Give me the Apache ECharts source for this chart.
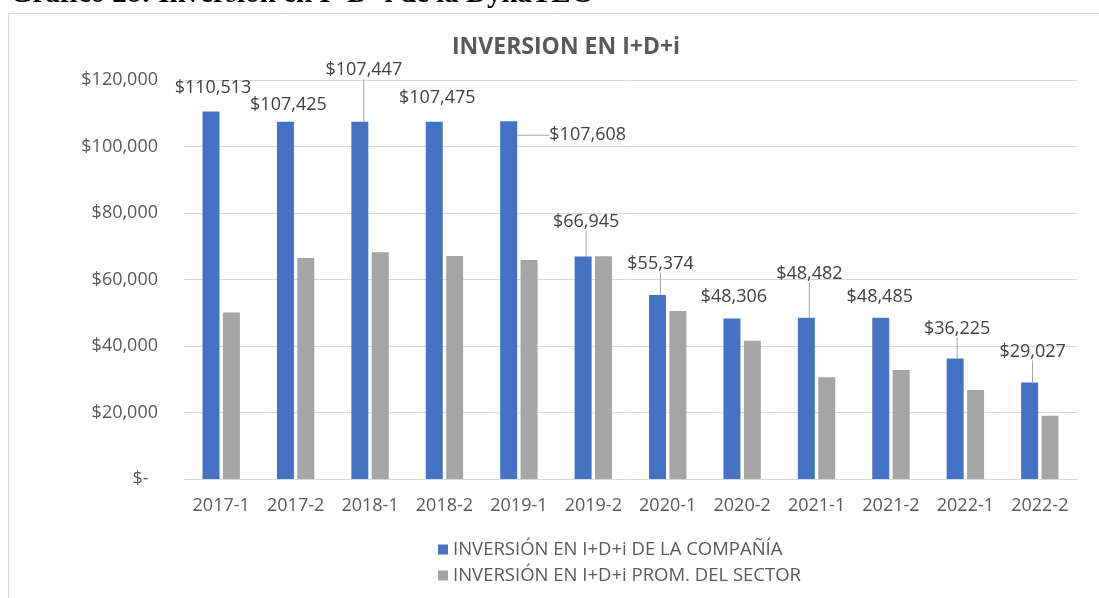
<!DOCTYPE html>
<html>
<head>
<meta charset="utf-8">
<script src="https://cdn.jsdelivr.net/npm/echarts@6/dist/echarts.min.js"></script>
<style>
    html, body { margin: 0; padding: 0; background: #fff; }
    #main { width: 1099px; height: 598px; }
</style>
</head>
<body>
<div id="main"></div>
<script>
var periodos = ['2017-1','2017-2','2018-1','2018-2','2019-1','2019-2','2020-1','2020-2','2021-1','2021-2','2022-1','2022-2'];
var compania = [110513,107425,107447,107475,107608,66945,55374,48306,48482,48485,36225,29027];
var sector = [50100,66500,68200,67100,65900,67000,50500,41600,30600,32800,26800,19000];
var yTicks = [0,20000,40000,60000,80000,100000,120000];

// desplazamiento de cada etiqueta (como quedaron en el Excel) y si lleva linea guia
var etqDx = [2,3,4,3,79,3,3,2,3,-1,2,3];
var etqDy = [-10,-3,-38,-10,28,-21,-17,-8,-30,-7,-16,-17];
var etqLinea = [false,false,true,false,true,true,true,false,true,false,true,true];

var myChart = echarts.init(document.getElementById('main'));

function fmtPesos(v){
    if(v == 0){
        return '$-  ';
    }
    return '$' + v.toLocaleString('en-US');
}

var dataCompania = compania.map(function(v, i){
    return { value: v, labelLine: { show: etqLinea[i] } };
});

var option = {
    backgroundColor: '#ffffff',
    animation: false,
    textStyle: { fontFamily: 'Open Sans' },
    title: {
        text: 'INVERSION EN I+D+i',
        left: 447,
        top: 31,
        textStyle: { color: '#595959', fontSize: 23, fontWeight: 'bold', fontFamily: 'Open Sans' }
    },
    graphic: [
        {
            type: 'rect',
            shape: { x: 8.5, y: 13.5, width: 1200, height: 700 },
            style: { fill: null, stroke: '#d9d9d9', lineWidth: 1 },
            silent: true
        },
        {
            type: 'text',
            style: {
                x: 10, y: -5,
                text: 'Gráfico 28: Inversión en I+D+i de la DynaTEC',
                font: 'bold 29px "Liberation Serif"',
                fill: '#000000',
                verticalAlign: 'middle'
            }
        }
    ],
    legend: {
        orient: 'vertical',
        left: 433,
        top: 535,
        itemWidth: 10,
        itemHeight: 10,
        itemGap: 7,
        icon: 'rect',
        textStyle: { color: '#595959', fontSize: 18.5, fontFamily: 'Open Sans' },
        data: ['INVERSIÓN EN I+D+i DE LA COMPAÑÍA', 'INVERSIÓN EN I+D+i PROM. DEL SECTOR']
    },
    grid: { left: 184, top: 80, width: 893, height: 399 },
    xAxis: {
        type: 'category',
        data: periodos,
        axisTick: { show: false },
        axisLine: { lineStyle: { color: '#d9d9d9', width: 1 } },
        axisLabel: { color: '#595959', fontSize: 18, margin: 18, interval: 0 }
    },
    yAxis: {
        type: 'value',
        min: yTicks[0],
        max: yTicks[yTicks.length - 1],
        interval: 20000,
        axisLine: { show: false },
        axisTick: { show: false },
        splitLine: { lineStyle: { color: '#d9d9d9', width: 1 } },
        axisLabel: { color: '#595959', fontSize: 18, margin: 26, formatter: fmtPesos }
    },
    series: [
        {
            name: 'INVERSIÓN EN I+D+i DE LA COMPAÑÍA',
            type: 'bar',
            data: dataCompania,
            barWidth: 17,
            barGap: '20%',
            itemStyle: { color: '#4472c4' },
            label: {
                show: true,
                position: 'top',
                distance: 5,
                color: '#404040',
                fontSize: 18,
                formatter: function(p){ return fmtPesos(p.value); }
            },
            labelLine: {
                show: false,
                lineStyle: { color: '#a6a6a6', width: 1 }
            },
            labelLayout: function(p){
                return { dx: etqDx[p.dataIndex], dy: etqDy[p.dataIndex] };
            }
        },
        {
            name: 'INVERSIÓN EN I+D+i PROM. DEL SECTOR',
            type: 'bar',
            data: sector,
            barWidth: 17,
            barGap: '20%',
            itemStyle: { color: '#a5a5a5' }
        }
    ]
};

myChart.setOption(option);
</script>
</body>
</html>
